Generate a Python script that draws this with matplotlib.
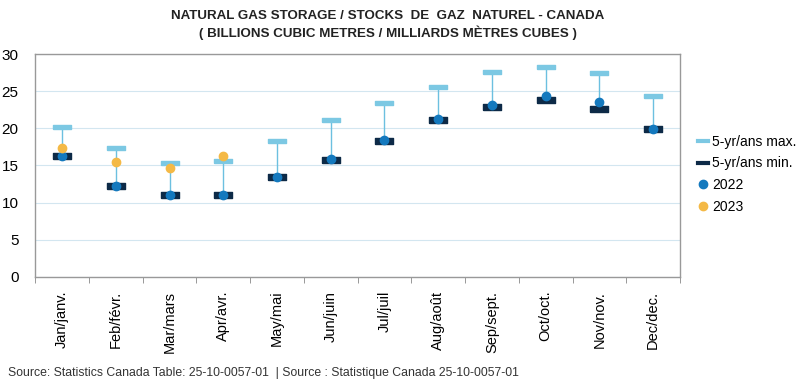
import matplotlib
matplotlib.use('Agg')
import matplotlib.pyplot as plt
from matplotlib.lines import Line2D
import numpy as np

###       DATA        ###
months = ['Jan/janv.', 'Feb/févr.', 'Mar/mars', 'Apr/avr.', 'May/mai', 'Jun/juin',
          'Jul/juil', 'Aug/août', 'Sep/sept.', 'Oct/oct.', 'Nov/nov.', 'Dec/dec.']
max5 = [20.2, 17.4, 15.3, 15.6, 18.3, 21.1, 23.4, 25.5, 27.6, 28.2, 27.5, 24.3]
min5 = [16.3, 12.3, 11.0, 11.0, 13.4, 15.8, 18.3, 21.1, 22.9, 23.8, 22.6, 19.9]
y2022 = [16.3, 12.3, 11.0, 11.0, 13.5, 15.9, 18.4, 21.2, 23.2, 24.3, 23.6, 19.9]
y2023 = [17.4, 15.5, 14.7, 16.3]

title = 'NATURAL GAS STORAGE / STOCKS  DE  GAZ  NATUREL - CANADA\n( BILLIONS CUBIC METRES / MILLIARDS MÈTRES CUBES )'
source = 'Source: Statistics Canada Table: 25-10-0057-01  | Source : Statistique Canada 25-10-0057-01'
###                   ###

c_max = '#7cc8e3'
c_min = '#0d2a47'
c_22 = '#1479be'
c_23 = '#f4b946'
c_line = '#6cc0e0'

bar = [(-1, -0.22), (1, -0.22), (1, 0.22), (-1, 0.22), (-1, -0.22)]
barthick = [(-1, -0.32), (1, -0.32), (1, 0.32), (-1, 0.32), (-1, -0.32)]

plt.rcParams['font.family'] = ['Liberation Sans', 'DejaVu Sans']

fig = plt.figure(figsize=(8, 3.83), dpi=100)
ax = fig.add_axes([0.044, 0.277, 0.806, 0.582])

x = np.arange(len(months))
ax.vlines(x, min5, max5, color=c_line, lw=1, zorder=2)
ax.plot(x, max5, ls='none', marker=bar, ms=13, color=c_max, mec=c_max, zorder=3)
ax.plot(x, min5, ls='none', marker=barthick, ms=13, color=c_min, mec=c_min, zorder=3)
ax.plot(x, y2022, ls='none', marker='o', ms=6, color=c_22, zorder=4)
ax.plot(x[:len(y2023)], y2023, ls='none', marker='o', ms=6, color=c_23, zorder=5)

ax.set_xlim(-0.5, 11.5)
ax.set_ylim(0, 30)
ax.set_yticks(range(0, 31, 5))
ax.set_xticks(x)
ax.set_xticklabels(months, rotation=90, fontsize=10.5)
ax.set_xticks(np.arange(-0.5, 12, 1), minor=True)
ax.tick_params(axis='x', which='major', length=0, pad=10)
ax.tick_params(axis='x', which='minor', length=4, color='#888888')
ax.tick_params(axis='y', length=0, labelsize=11, pad=12)
ax.grid(axis='y', color='#d3e6f0', lw=0.8)
ax.set_axisbelow(True)
for s in ax.spines.values():
    s.set_color('#999999')
    s.set_linewidth(1)

fig.text(0.485, 0.975, title, ha='center', va='top', fontsize=9.6,
         fontweight='bold', color='#222222', linespacing=1.35)
fig.text(0.01, 0.01, source, ha='left', va='bottom', fontsize=8.8,
         color='#333333')

handles = [Line2D([], [], color=c_max, lw=3),
           Line2D([], [], color=c_min, lw=3),
           Line2D([], [], ls='none', marker='o', ms=6, color=c_22),
           Line2D([], [], ls='none', marker='o', ms=6, color=c_23)]
labels = ['5-yr/ans max.', '5-yr/ans min.', '2022', '2023']
fig.legend(handles, labels, loc='center left', bbox_to_anchor=(0.857, 0.545),
           frameon=False, fontsize=10, handlelength=0.7, handletextpad=0.3,
           labelspacing=0.55)

plt.savefig('out.png', facecolor='white')
